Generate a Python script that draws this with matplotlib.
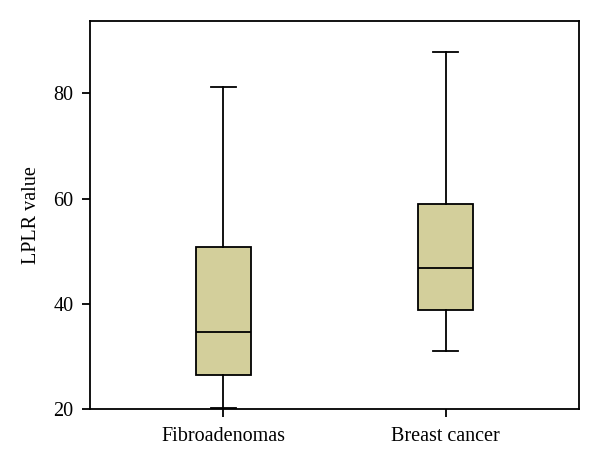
import matplotlib.pyplot as plt

plt.rcParams['font.family'] = ['Liberation Serif', 'DejaVu Serif']

groups = ["Fibroadenomas", "Breast cancer"]
whislo = [20.2, 31.1]
q1 = [26.5, 38.8]
med = [34.7, 46.9]
q3 = [50.9, 59.0]
whishi = [81.2, 87.8]

stats = []
for i in range(len(groups)):
    stats.append(dict(label=groups[i], whislo=whislo[i], q1=q1[i], med=med[i],
                      q3=q3[i], whishi=whishi[i], fliers=[]))

fig = plt.figure(figsize=(6, 4.66), dpi=100)
ax = fig.add_axes([0.15, 0.1217, 0.815, 0.834])

ax.bxp(stats, positions=[1, 2], widths=0.245, capwidths=0.1125,
       patch_artist=True, showfliers=False,
       boxprops=dict(facecolor="#d3cf9b", edgecolor="black", linewidth=1.3),
       medianprops=dict(color="black", linewidth=1.3),
       whiskerprops=dict(color="black", linewidth=1.3),
       capprops=dict(color="black", linewidth=1.3))

ax.set_xlim(0.4, 2.6)
ax.set_ylim(20, 93.8)
ax.set_yticks([20, 40, 60, 80])
ax.set_ylabel("LPLR value", fontsize=14.5, labelpad=9)
ax.tick_params(axis="both", direction="out", length=6, width=1.3, labelsize=14.5)
ax.tick_params(axis="y", pad=6)
ax.tick_params(axis="x", pad=7)
for s in ax.spines.values():
    s.set_linewidth(1.3)

fig.savefig("out.png", dpi=100)
